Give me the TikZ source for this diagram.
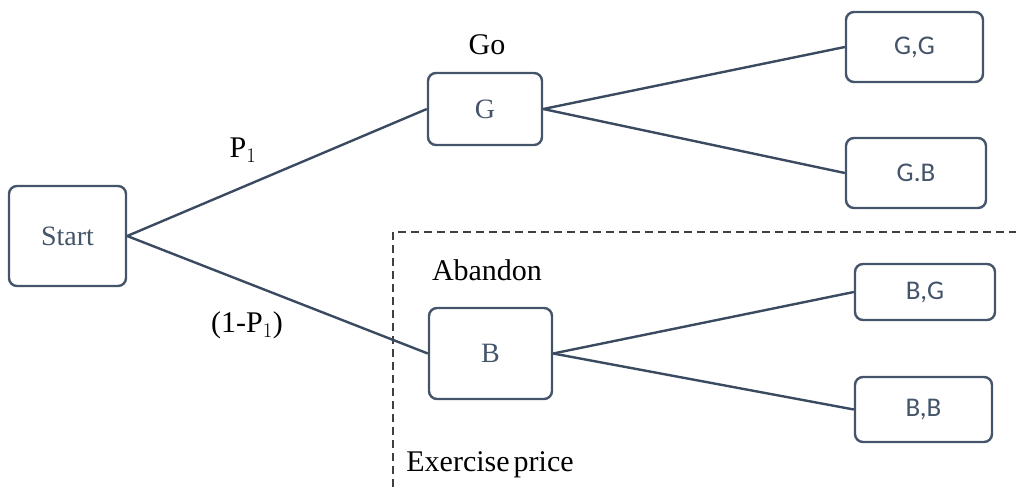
\documentclass[tikz,border=0pt]{standalone}
\usepackage{fontspec}
\setmainfont{Liberation Serif}
\newfontfamily\boxsans{Carlito}
\definecolor{slate}{HTML}{44546A}
\definecolor{edgec}{HTML}{3A4A60}
\begin{document}
\begin{tikzpicture}[x=1pt,y=-1pt,
  state/.style={draw=slate, line width=2.4pt, rounded corners=8pt, text=slate,
    font=\fontsize{28}{30}\selectfont, inner sep=0pt},
  outcome/.style={state, font=\boxsans\fontsize{27}{30}\selectfont},
  branch/.style={draw=edgec, line width=2.4pt},
  lbl/.style={font=\fontsize{30}{34}\selectfont, text=black, inner sep=0pt}]
\useasboundingbox (0,0) rectangle (1016,487);
% option region
\draw[black!75, line width=1.3pt, dash pattern=on 8pt off 5pt]
  (393,487) -- (393,232) -- (1016,232);
% decision nodes
\node[state, minimum width=117pt, minimum height=100pt] (start) at (67.5,236) {Start};
\node[state, minimum width=114pt, minimum height=72pt] (g) at (485,109) {G};
\node[state, minimum width=123pt, minimum height=91pt] (b) at (490.5,353.5) {B};
% outcomes
\node[outcome, minimum width=137pt, minimum height=70pt] (gg) at (914.5,47) {G,G};
\node[outcome, minimum width=140pt, minimum height=70pt] (gb) at (916,173) {G.B};
\node[outcome, minimum width=140pt, minimum height=56pt] (bg) at (925,292) {B,G};
\node[outcome, minimum width=137pt, minimum height=65pt] (bb) at (923.5,409.5) {B,B};
% branches
\draw[branch] (start.east) -- (g.west);
\draw[branch] (start.east) -- (b.west);
\draw[branch] (g.east) -- (gg.west);
\draw[branch] (g.east) -- (gb.west);
\draw[branch] (b.east) -- (bg.west);
\draw[branch] (b.east) -- (bb.west);
% labels
\node[lbl] (go) at (487,45) {Go};
\node[lbl] (p1) at (243,150) {P$_1$};
\node[lbl] (q1) at (247,325) {(1-P$_1$)};
\node[lbl] (ab) at (487,270) {Abandon};
\node[lbl] (ex) at (490,465) {Exercise\hspace{4pt}price};
\end{tikzpicture}
\end{document}
